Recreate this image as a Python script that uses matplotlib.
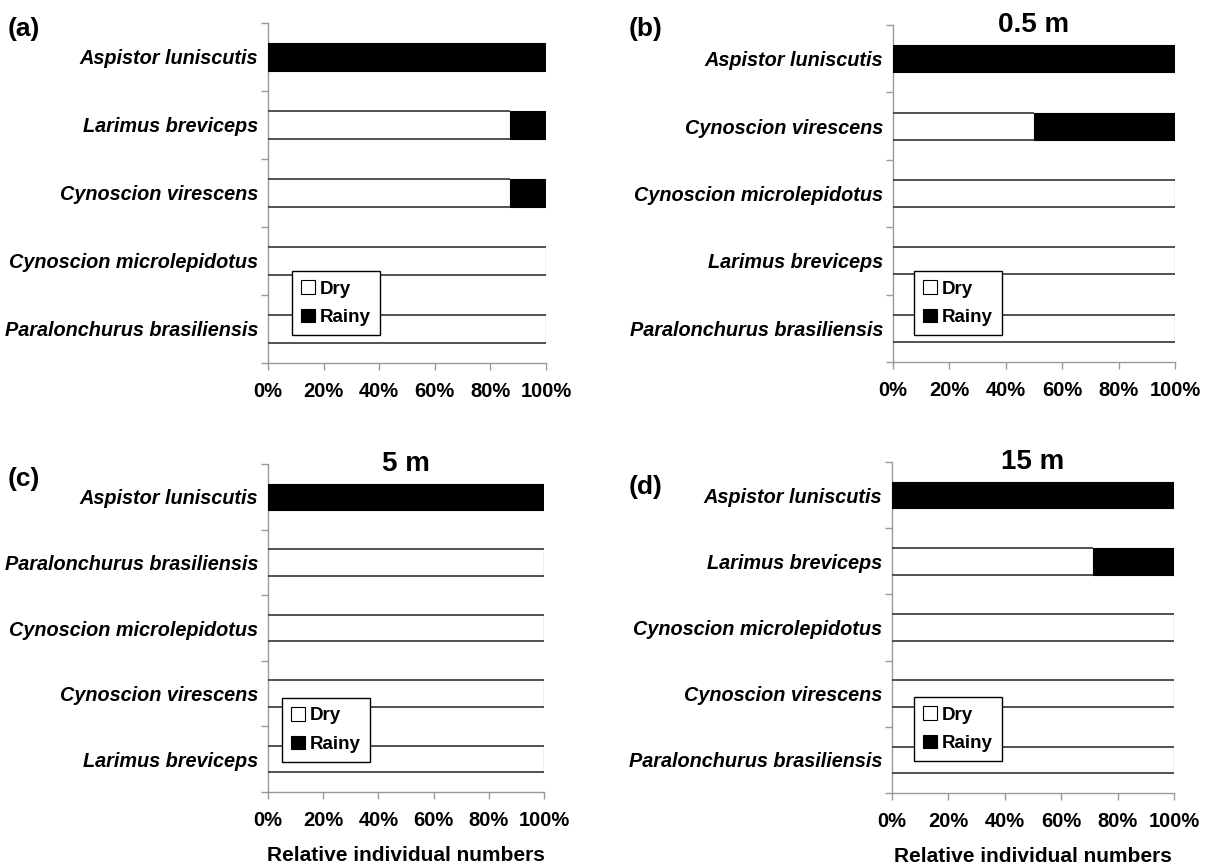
import matplotlib
matplotlib.use('Agg')
import matplotlib.pyplot as plt
from matplotlib.patches import Patch
from matplotlib.ticker import FuncFormatter, FixedLocator

plt.rcParams['font.family'] = ['Liberation Sans', 'DejaVu Sans']
plt.rcParams['font.weight'] = 'bold'

# species, top to bottom, and % of individuals per season
species_a = ['Aspistor luniscutis', 'Larimus breviceps', 'Cynoscion virescens',
             'Cynoscion microlepidotus', 'Paralonchurus brasiliensis']
dry_a = [0, 87, 87, 100, 100]
rainy_a = [100, 13, 13, 0, 0]

species_b = ['Aspistor luniscutis', 'Cynoscion virescens', 'Cynoscion microlepidotus',
             'Larimus breviceps', 'Paralonchurus brasiliensis']
dry_b = [0, 50, 100, 100, 100]
rainy_b = [100, 50, 0, 0, 0]

species_c = ['Aspistor luniscutis', 'Paralonchurus brasiliensis', 'Cynoscion microlepidotus',
             'Cynoscion virescens', 'Larimus breviceps']
dry_c = [0, 100, 100, 100, 100]
rainy_c = [100, 0, 0, 0, 0]

species_d = ['Aspistor luniscutis', 'Larimus breviceps', 'Cynoscion microlepidotus',
             'Cynoscion virescens', 'Paralonchurus brasiliensis']
dry_d = [0, 71.4, 100, 100, 100]
rainy_d = [100, 28.6, 0, 0, 0]

x_ticks = [0, 20, 40, 60, 80, 100]

W, H = 1213, 867
fig = plt.figure(figsize=(W / 100, H / 100), dpi=100)


def px_axes(x0, x1, y0, y1):
    # pixel box (from top-left) -> figure fraction
    return fig.add_axes([x0 / W, 1 - y1 / H, (x1 - x0) / W, (y1 - y0) / H])


panels = [
    (species_a, dry_a, rainy_a, (268, 546, 23, 363), '(a)', (8, 29), None, (292, 271), False),
    (species_b, dry_b, rainy_b, (893, 1175, 25, 362), '(b)', (629, 29), '0.5 m', (914, 271), False),
    (species_c, dry_c, rainy_c, (268, 544, 464, 792), '(c)', (8, 479), '5 m', (282, 698), True),
    (species_d, dry_d, rainy_d, (892, 1174, 462, 793), '(d)', (629, 487), '15 m', (914, 697), True),
]

grey = '#999999'
bar_h = 0.4

for species, dry, rainy, box, tag, tag_pos, title, leg_pos, show_xlabel in panels:
    ax = px_axes(*box)
    y = list(range(len(species)))
    ax.barh(y, dry, height=bar_h, color='white', edgecolor='none', zorder=2)
    # excel-style outline: only top and bottom edges of the dry bars
    for yi, d in zip(y, dry):
        if d > 0:
            ax.hlines([yi - bar_h / 2, yi + bar_h / 2], 0, d, color='#333333', lw=1.2, zorder=3)
    ax.barh(y, rainy, left=dry, height=bar_h, color='black', edgecolor='black', lw=0.8, zorder=3)

    ax.set_xlim(0, 100)
    ax.set_ylim(len(species) - 0.5, -0.5)
    ax.set_yticks(y)
    ax.set_yticklabels(species, fontsize=14.3, fontstyle='italic', fontweight='bold')
    ax.yaxis.set_minor_locator(FixedLocator([i - 0.5 for i in range(len(species) + 1)]))
    ax.tick_params(axis='y', which='major', length=0, pad=7)
    ax.tick_params(axis='y', which='minor', length=5, color=grey, width=1)
    ax.set_xticks(x_ticks)
    ax.xaxis.set_major_formatter(FuncFormatter(lambda v, p: f'{int(v)}%'))
    ax.tick_params(axis='x', length=5, color=grey, width=1, labelsize=14.5, pad=9)

    for s in ['top', 'right']:
        ax.spines[s].set_visible(False)
    for s in ['left', 'bottom']:
        ax.spines[s].set_color(grey)
        ax.spines[s].set_linewidth(1)

    fig.text(tag_pos[0] / W, 1 - tag_pos[1] / H, tag, fontsize=19, fontweight='bold', va='center', ha='left')
    if title:
        ax.text(0.5, 1.0, title, transform=ax.transAxes, fontsize=20, fontweight='bold',
                ha='center', va='center')
    if show_xlabel:
        ax.set_xlabel('Relative individual numbers', fontsize=15, fontweight='bold', labelpad=11)

    handles = [Patch(facecolor='white', edgecolor='black', lw=0.8, label='Dry'),
               Patch(facecolor='black', edgecolor='black', lw=0.8, label='Rainy')]
    leg = ax.legend(handles=handles, loc='upper left',
                    bbox_to_anchor=(leg_pos[0] / W, 1 - leg_pos[1] / H),
                    bbox_transform=fig.transFigure, borderaxespad=0,
                    fancybox=False, framealpha=1, edgecolor='black',
                    handlelength=0.7, handleheight=0.7, handletextpad=0.3,
                    labelspacing=0.6, borderpad=0.5, prop={'size': 13.5, 'weight': 'bold'})
    leg.get_frame().set_linewidth(1)
    leg.set_zorder(5)

fig.savefig('out.png', dpi=100)
